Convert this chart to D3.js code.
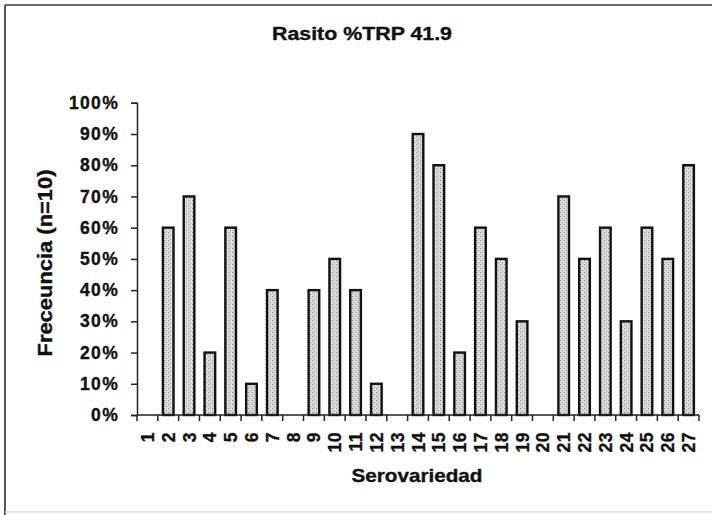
<!DOCTYPE html>
<html>
<head>
<meta charset="utf-8">
<script src="https://cdn.jsdelivr.net/npm/d3@7/dist/d3.min.js"></script>
<style>
  html, body { margin: 0; padding: 0; background: #fff; }
  text { font-family: Arial, "Liberation Sans", sans-serif; font-weight: bold; fill: #111; stroke: #111; stroke-width: 0.35px; }
</style>
</head>
<body>
<svg id="chart" width="712" height="515"></svg>
<script>
// Serovariety categories and observed frequency (share of n=10)
const categories = ["1","2","3","4","5","6","7","8","9","10","11","12","13","14","15","16","17","18","19","20","21","22","23","24","25","26","27"];
const frequency = [0, 0.6, 0.7, 0.2, 0.6, 0.1, 0.4, 0, 0.4, 0.5, 0.4, 0.1, 0, 0.9, 0.8, 0.2, 0.6, 0.5, 0.3, 0, 0.7, 0.5, 0.6, 0.3, 0.6, 0.5, 0.8];
const yTicks = [0, 0.1, 0.2, 0.3, 0.4, 0.5, 0.6, 0.7, 0.8, 0.9, 1.0];
const titleText = "Rasito %TRP 41.9";
const xTitle = "Serovariedad";
const yTitle = "Freceuncia (n=10)";

const svg = d3.select("#chart");

// outer frame: dark top and left edges, faint bottom edge
svg.append("line").attr("x1", 5).attr("x2", 712).attr("y1", 5).attr("y2", 5)
  .attr("stroke", "#666").attr("stroke-width", 2);
svg.append("line").attr("x1", 5).attr("x2", 5).attr("y1", 5).attr("y2", 515)
  .attr("stroke", "#555").attr("stroke-width", 2);
svg.append("line").attr("x1", 5).attr("x2", 712).attr("y1", 512).attr("y2", 512)
  .attr("stroke", "#ddd").attr("stroke-width", 1.5);

// stippled grey fill for bars
const defs = svg.append("defs");
const pat = defs.append("pattern").attr("id", "stipple")
  .attr("patternUnits", "userSpaceOnUse").attr("width", 4).attr("height", 4);
pat.append("rect").attr("width", 4).attr("height", 4).attr("fill", "#d8d8d8");
pat.append("rect").attr("x", 0).attr("y", 0).attr("width", 1).attr("height", 1).attr("fill", "#8a8a8a");
pat.append("rect").attr("x", 2).attr("y", 2).attr("width", 1).attr("height", 1).attr("fill", "#9a9a9a");
pat.append("rect").attr("x", 3).attr("y", 1).attr("width", 1).attr("height", 1).attr("fill", "#f2f2f2");

const plot = { left: 137, right: 699, top: 102.8, bottom: 415 };

const x = d3.scaleBand().domain(categories).range([plot.left, plot.right]).paddingInner(0.49).paddingOuter(0.245);
const xTicksScale = d3.scaleBand().domain(categories).range([plot.left, plot.right]);
const y = d3.scaleLinear().domain([0, 1]).range([plot.bottom, plot.top]);

// bars
svg.append("g").selectAll("rect").data(categories.map((c, i) => ({ c, v: frequency[i] })).filter(d => d.v > 0))
  .join("rect")
  .attr("x", d => x(d.c))
  .attr("y", d => y(d.v))
  .attr("width", x.bandwidth())
  .attr("height", d => y(0) - y(d.v))
  .attr("fill", "url(#stipple)")
  .attr("stroke", "#111")
  .attr("stroke-width", 2.4);

// y axis
const yAxis = svg.append("g").attr("transform", `translate(${plot.left},0)`)
  .call(d3.axisLeft(y).tickValues(yTicks).tickFormat(d3.format(".0%")).tickSizeOuter(0).tickSize(6).tickPadding(12));
yAxis.selectAll("path, line").attr("stroke", "#222").attr("stroke-width", 1.5);
yAxis.selectAll("text").attr("font-size", 17.5).style("letter-spacing", "1.3px")
  .attr("font-family", "Arial, 'Liberation Sans', sans-serif").attr("font-weight", "bold").attr("fill", "#111");

// x axis: boundary ticks between categories
const xg = svg.append("g").attr("transform", `translate(0,${plot.bottom})`);
xg.append("line").attr("x1", plot.left).attr("x2", plot.right).attr("y1", 0).attr("y2", 0)
  .attr("stroke", "#222").attr("stroke-width", 1.5);
const bounds = categories.map(c => xTicksScale(c)).concat([plot.right]);
xg.selectAll("line.tk").data(bounds).join("line").attr("class", "tk")
  .attr("x1", d => d).attr("x2", d => d).attr("y1", 0).attr("y2", 6)
  .attr("stroke", "#222").attr("stroke-width", 1.5);
xg.selectAll("text").data(categories).join("text")
  .attr("transform", d => `translate(${xTicksScale(d) + xTicksScale.bandwidth() / 2 + 6.5},17) rotate(-90)`)
  .attr("text-anchor", "end")
  .attr("font-size", 17.5)
  .style("letter-spacing", "0.5px")
  .text(d => d);

// titles
svg.append("text").attr("x", 362).attr("y", 40).attr("text-anchor", "middle")
  .attr("font-size", 18).attr("textLength", 180).attr("lengthAdjust", "spacingAndGlyphs").text(titleText);
svg.append("text").attr("x", 417).attr("y", 482).attr("text-anchor", "middle")
  .attr("font-size", 18.5).attr("textLength", 131).attr("lengthAdjust", "spacingAndGlyphs").text(xTitle);
svg.append("text").attr("transform", "translate(52,263) rotate(-90)").attr("text-anchor", "middle")
  .attr("font-size", 19.5).attr("textLength", 187).attr("lengthAdjust", "spacingAndGlyphs").text(yTitle);
</script>
</body>
</html>
